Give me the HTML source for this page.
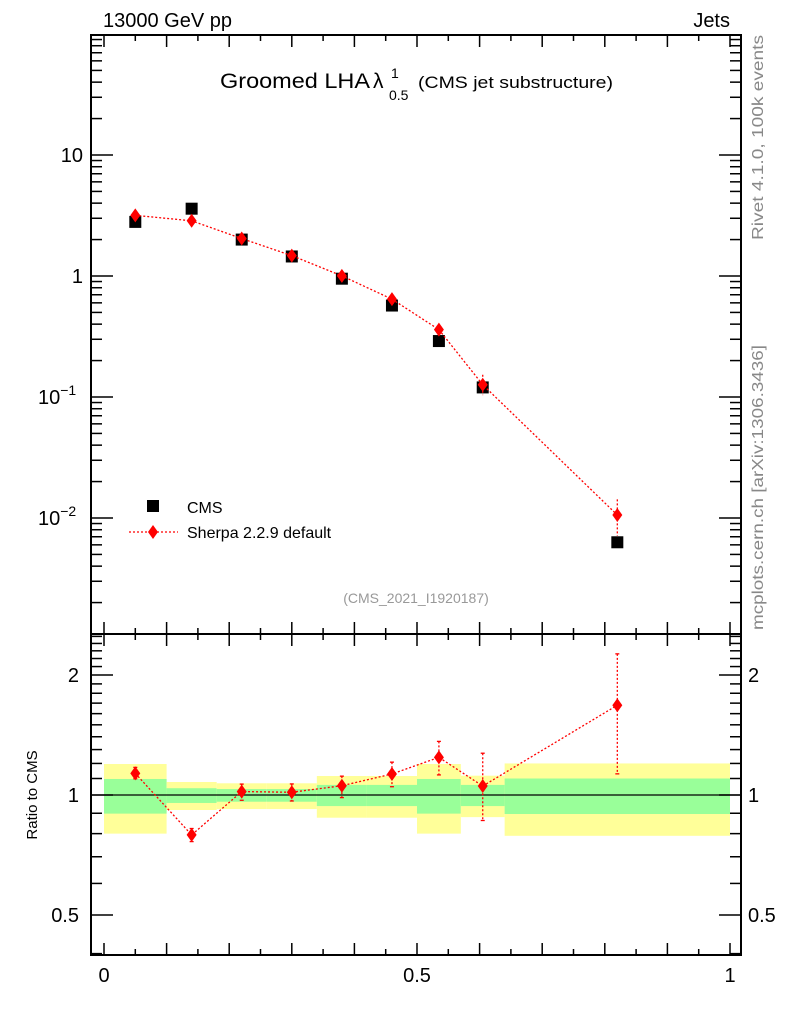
<!DOCTYPE html>
<html><head><meta charset="utf-8">
<style>
html,body{margin:0;padding:0;background:#fff;}
svg{display:block;font-family:"Liberation Sans",Arial,sans-serif;}
</style></head>
<body>
<svg id="chart" width="786" height="1024" viewBox="0 0 786 1024" xmlns="http://www.w3.org/2000/svg">
  <text x="103" y="27" font-size="20">13000 GeV pp</text>
  <text x="730" y="27" font-size="20" text-anchor="end">Jets</text>
  <g>
    <text x="220" y="88" font-size="21" textLength="150" lengthAdjust="spacingAndGlyphs">Groomed LHA</text>
    <text x="373" y="88" font-size="21">λ</text>
    <text x="391" y="78" font-size="14">1</text>
    <text x="389" y="100" font-size="14">0.5</text>
    <text x="418" y="88" font-size="17" textLength="195" lengthAdjust="spacingAndGlyphs">(CMS jet substructure)</text>
  </g>
  <text transform="translate(763,240) rotate(-90)" font-size="16" fill="#888" textLength="205" lengthAdjust="spacingAndGlyphs">Rivet 4.1.0,  100k events</text>
  <text transform="translate(763,630) rotate(-90)" font-size="16" fill="#888" textLength="285" lengthAdjust="spacingAndGlyphs">mcplots.cern.ch [arXiv:1306.3436]</text>
  <text x="416" y="603" font-size="14" fill="#999" text-anchor="middle">(CMS_2021_I1920187)</text>
  <text transform="translate(37,795) rotate(-90)" font-size="15" text-anchor="middle">Ratio to CMS</text>
  <g id="g"></g>
</svg>
<script>
const binEdges=[0,0.1,0.18,0.26,0.34,0.42,0.5,0.57,0.64,1];
const xPts=[0.05,0.14,0.22,0.30,0.38,0.46,0.535,0.605,0.82];
const cmsVals=[2.8,3.6,2.0,1.45,0.95,0.57,0.29,0.12,0.0063];
const ratioVals=[1.133,0.794,1.02,1.016,1.055,1.129,1.243,1.053,1.68];
const ratioErrUp=[0.04,0.03,0.045,0.05,0.06,0.08,0.12,0.22,0.58];
const ratioErrDn=[0.035,0.03,0.05,0.05,0.07,0.08,0.12,0.19,0.55];
const bandYellowUp=[1.196,1.078,1.07,1.07,1.116,1.116,1.196,1.118,1.2];
const bandYellowDn=[0.80,0.917,0.922,0.922,0.877,0.877,0.80,0.88,0.79];
const bandGreenUp=[1.097,1.04,1.035,1.035,1.06,1.06,1.097,1.06,1.1];
const bandGreenDn=[0.898,0.955,0.962,0.962,0.938,0.938,0.898,0.938,0.896];
const mainTickLabels=[["10",1],["1",0],["10","-1"],["10","-2"]];

const NS="http://www.w3.org/2000/svg";
const g=document.getElementById('g');
function mk(t,a,p){const e=document.createElementNS(NS,t);for(const k in a)e.setAttribute(k,a[k]);(p||g).appendChild(e);return e;}
const L=91,R=741,T1=35,B1=634,T2=634,B2=955;
const X=v=>104+v*626;
const Ym=v=>276-121*Math.log10(v);
const Yr=v=>795-398.6*Math.log10(v);

for(let i=0;i<binEdges.length-1;i++){
  const x0=X(binEdges[i]),x1=X(binEdges[i+1]);
  const y=mk('rect',{x:x0,y:Yr(bandYellowUp[i]),width:x1-x0,height:Yr(bandYellowDn[i])-Yr(bandYellowUp[i]),fill:'#ffff99'});
  
  
  const gr=mk('rect',{x:x0,y:Yr(bandGreenUp[i]),width:x1-x0,height:Yr(bandGreenDn[i])-Yr(bandGreenUp[i]),fill:'#99ff99'});
  
  
}
const one=mk('line',{x1:L,x2:R,y1:Yr(1),y2:Yr(1),stroke:'#000','stroke-width':1.2});



const f1=mk('rect',{x:L,y:T1,width:R-L,height:B1-T1,fill:'none',stroke:'#000','stroke-width':2});


const f2=mk('rect',{x:L,y:T2,width:R-L,height:B2-T2,fill:'none',stroke:'#000','stroke-width':2});



for(let k=0;k<=20;k++){
  const v=k*0.05,x=X(v),len=(k%2==0)?12:6;
  for(const [yt,yb] of [[T1,B1],[T2,B2]]){
    mk('line',{x1:x,x2:x,y1:yt,y2:yt+len,stroke:'#000','stroke-width':1.5});
    mk('line',{x1:x,x2:x,y1:yb,y2:yb-len,stroke:'#000','stroke-width':1.5});
  }
}
[["0",0],["0.5",0.5],["1",1]].forEach(([s,v])=>{
  const t=mk('text',{x:X(v),y:982,'font-size':20,'text-anchor':'middle'});t.textContent=s;
  
  
});

for(let d=-3;d<=2;d++){
  for(let m=1;m<10;m++){
    const v=m*Math.pow(10,d),y=Ym(v);
    if(y<T1||y>B1)continue;
    const len=m==1?22:11;
    mk('line',{x1:L,x2:L+len,y1:y,y2:y,stroke:'#000','stroke-width':1.5});
    mk('line',{x1:R,x2:R-len,y1:y,y2:y,stroke:'#000','stroke-width':1.5});
  }
}
mainTickLabels.forEach(([b,e])=>{
  const y=Ym(Math.pow(10,+e));
  const t=mk('text',{x:83,y:y+7,'font-size':20,'text-anchor':'end'});
  
  
  if(e==="-1"||e==="-2"){t.setAttribute('x',38);t.setAttribute('text-anchor','start');
    t.innerHTML=b+'<tspan font-size="14" dy="-9">−'+e.slice(1)+'</tspan>';}
  else t.textContent=b;
});

[0.4,0.5,0.6,0.7,0.8,0.9,1,1.1,1.2,1.3,1.4,1.5,1.6,1.7,1.8,1.9,2,2.1,2.2,2.3,2.4,2.5].forEach(v=>{
  const y=Yr(v);if(y<T2||y>B2)return;
  const len=(v==0.5||v==1||v==2)?22:11;
  mk('line',{x1:L,x2:L+len,y1:y,y2:y,stroke:'#000','stroke-width':1.5});
  mk('line',{x1:R,x2:R-len,y1:y,y2:y,stroke:'#000','stroke-width':1.5});
});
[["2",2],["1",1],["0.5",0.5]].forEach(([s,v])=>{
  const a=mk('text',{x:79,y:Yr(v)+7,'font-size':20,'text-anchor':'end'});a.textContent=s;
  
  
  const b=mk('text',{x:748,y:Yr(v)+7,'font-size':20});b.textContent=s;
  
  
});

function diamond(x,y){return `${x},${y-7} ${x+5},${y} ${x},${y+7} ${x-5},${y}`;}
xPts.forEach((v,i)=>{
  const r=mk('rect',{x:X(v)-6,y:Ym(cmsVals[i])-6,width:12,height:12,fill:'#000'});
  
  
});
const sh=cmsVals.map((c,i)=>c*ratioVals[i]);
const pl=mk('polyline',{points:xPts.map((v,i)=>X(v)+','+Ym(sh[i])).join(' '),fill:'none',stroke:'#f00','stroke-width':1.3,'stroke-dasharray':'2,2'});


xPts.forEach((v,i)=>{
  const x=X(v),yu=Ym(sh[i]*(1+ratioErrUp[i]/ratioVals[i])),yd=Ym(sh[i]*Math.max(0.05,1-ratioErrDn[i]/ratioVals[i]));
  mk('line',{x1:x,x2:x,y1:yu,y2:yd,stroke:'#f00','stroke-width':1.3,'stroke-dasharray':'2,2'});
  const p=mk('polygon',{points:diamond(x,Ym(sh[i])),fill:'#f00'});
  
  
});
const rl=mk('polyline',{points:xPts.map((v,i)=>X(v)+','+Yr(ratioVals[i])).join(' '),fill:'none',stroke:'#f00','stroke-width':1.3,'stroke-dasharray':'2,2'});


xPts.forEach((v,i)=>{
  const x=X(v),yu=Yr(ratioVals[i]+ratioErrUp[i]),yd=Yr(ratioVals[i]-ratioErrDn[i]);
  mk('line',{x1:x,x2:x,y1:yu,y2:yd,stroke:'#f00','stroke-width':1.3,'stroke-dasharray':'2,2'});
  mk('line',{x1:x-2,x2:x+2,y1:yu,y2:yu,stroke:'#f00','stroke-width':1.3});
  mk('line',{x1:x-2,x2:x+2,y1:yd,y2:yd,stroke:'#f00','stroke-width':1.3});
  const p=mk('polygon',{points:diamond(x,Yr(ratioVals[i])),fill:'#f00'});
  
  
});
const lg=mk('g',{});


mk('rect',{x:147,y:500,width:12,height:12,fill:'#000'},lg);
const t1=mk('text',{x:187,y:513,'font-size':16},lg);t1.textContent='CMS';
mk('line',{x1:129,x2:178,y1:532,y2:532,stroke:'#f00','stroke-width':1.3,'stroke-dasharray':'2,2'},lg);
mk('polygon',{points:diamond(153,532),fill:'#f00'},lg);
const t2=mk('text',{x:187,y:538,'font-size':16},lg);t2.textContent='Sherpa 2.2.9 default';
</script>
</body></html>
